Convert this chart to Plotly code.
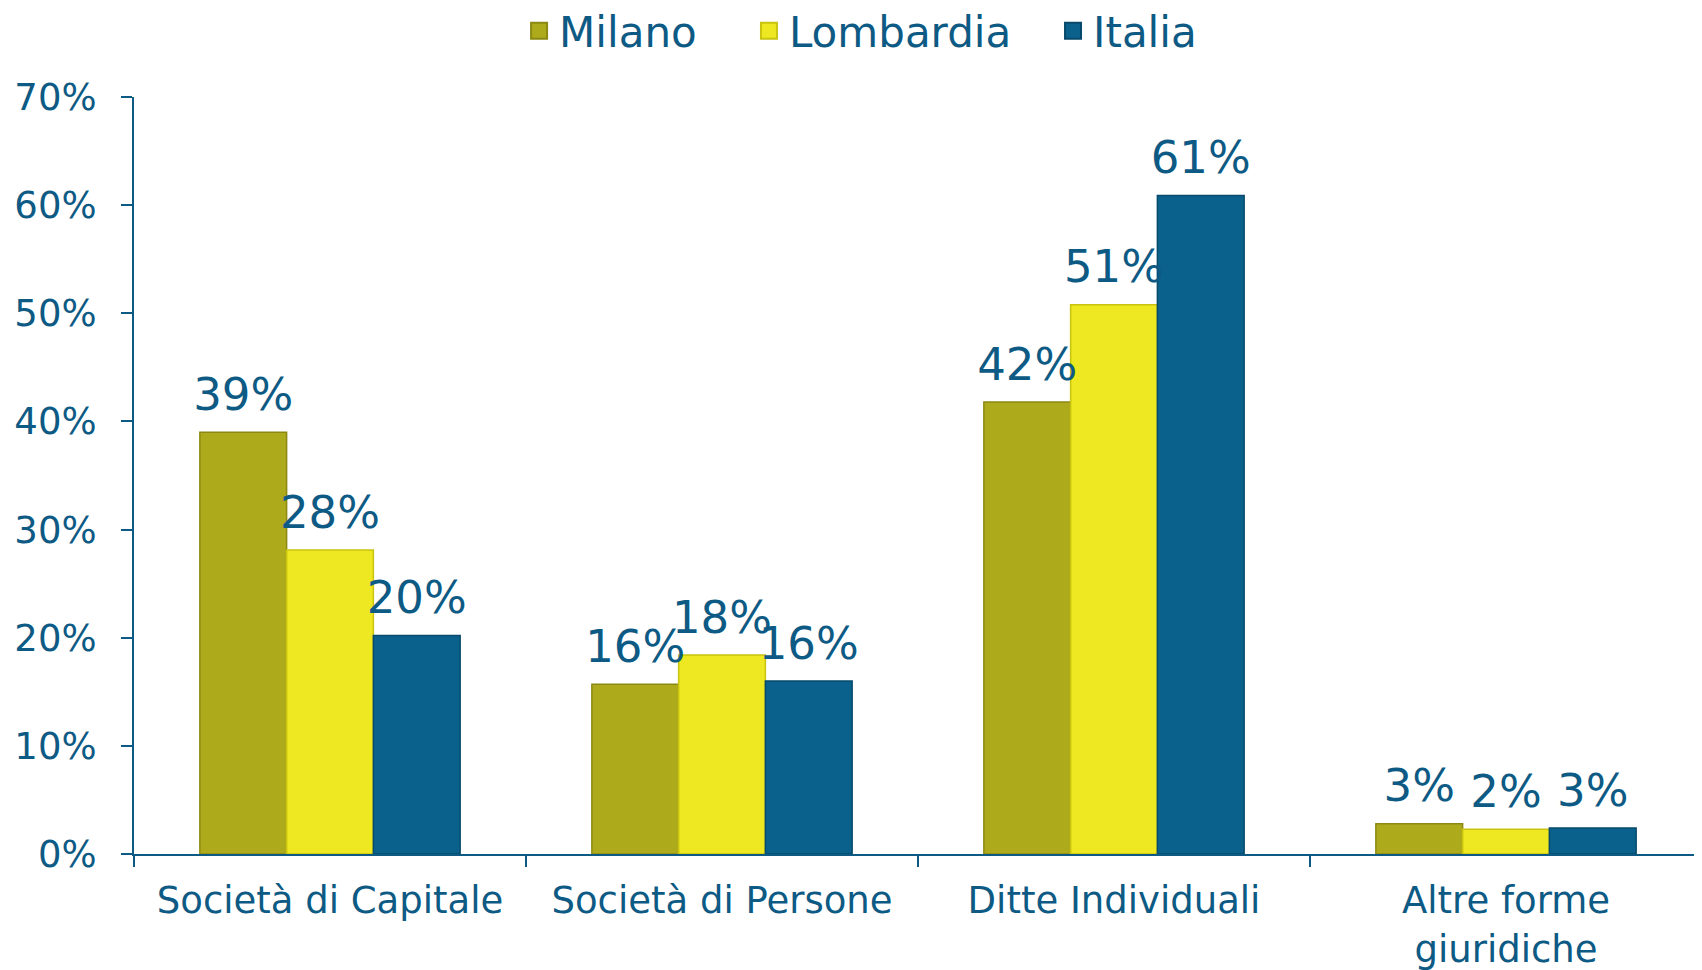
import plotly.graph_objects as go

categories = ["Società di Capitale", "Società di Persone", "Ditte Individuali", "Altre forme<br>giuridiche"]
series_names = ["Milano", "Lombardia", "Italia"]
milano = [39.0, 15.7, 41.8, 2.8]
lombardia = [28.1, 18.4, 50.8, 2.3]
italia = [20.2, 16.0, 60.9, 2.4]
milano_labels = ["39%", "16%", "42%", "3%"]
lombardia_labels = ["28%", "18%", "51%", "2%"]
italia_labels = ["20%", "16%", "61%", "3%"]
y_ticks = [0, 10, 20, 30, 40, 50, 60, 70]
y_tick_labels = ["0%", "10%", "20%", "30%", "40%", "50%", "60%", "70%"]

TXT = "#0D5A84"
FONT = "DejaVu Sans"
colors = ["#ADAA1C", "#EDE821", "#0A628C"]
edges = ["#8C8912", "#C9C410", "#074A6B"]
legend_ids = ["legend", "legend2", "legend3"]
legend_x = [0.3017, 0.4374, 0.6169]

fig = go.Figure()
for i, (name, vals, c, e) in enumerate(zip(series_names, [milano, lombardia, italia], colors, edges)):
    fig.add_trace(go.Bar(
        name=name, x=categories, y=vals, offsetgroup=str(i), showlegend=False,
        marker=dict(color=c, line=dict(color=e, width=1.5)),
        hoverinfo="skip",
    ))
for i, (vals, labs) in enumerate(zip([milano, lombardia, italia],
                                     [milano_labels, lombardia_labels, italia_labels])):
    fig.add_trace(go.Scatter(
        x=categories, y=vals, text=labs, mode="markers+text", offsetgroup=str(i),
        textposition="top center", cliponaxis=False, showlegend=False,
        marker=dict(size=16, opacity=0),
        textfont=dict(family=FONT, size=45, color=TXT), hoverinfo="skip",
    ))
# legend entries (larger square swatches), one legend per series
for i, (name, c, e) in enumerate(zip(series_names, colors, edges)):
    fig.add_trace(go.Scatter(
        name=name, x=[None], y=[None], mode="markers", legend=legend_ids[i],
        marker=dict(symbol="square", size=16, color=c, line=dict(color=e, width=2)),
        hoverinfo="skip",
    ))

legend_common = dict(orientation="h", xref="container", yref="container", xanchor="left",
                     y=0.9761, yanchor="middle",
                     font=dict(family=FONT, size=42, color=TXT), bgcolor="rgba(0,0,0,0)")

fig.update_layout(
    width=1694, height=962,
    margin=dict(l=126, r=0, t=89, b=116),
    paper_bgcolor="white", plot_bgcolor="white",
    barmode="group", bargap=0.336, bargroupgap=0,
    scattermode="group", scattergap=0.336,
    font=dict(family=FONT, color=TXT, size=37),
    legend=dict(x=legend_x[0], **legend_common),
    legend2=dict(x=legend_x[1], **legend_common),
    legend3=dict(x=legend_x[2], **legend_common),
    xaxis=dict(showline=True, linecolor=TXT, linewidth=2, ticks="outside", tickson="boundaries",
               ticklen=11, tickcolor=TXT, tickwidth=1.5, showgrid=False, automargin=False,
               ticklabelstandoff=13,
               tickfont=dict(family=FONT, size=37, color=TXT)),
    yaxis=dict(range=[0, 70], tickvals=y_ticks, ticktext=y_tick_labels, showline=True,
               linecolor=TXT, linewidth=2, ticks="outside", ticklen=11, tickcolor=TXT,
               tickwidth=1.5, showgrid=False, zeroline=False, ticklabelstandoff=17,
               automargin=False,
               tickfont=dict(family=FONT, size=37, color=TXT)),
)

fig.write_html("out.html")
